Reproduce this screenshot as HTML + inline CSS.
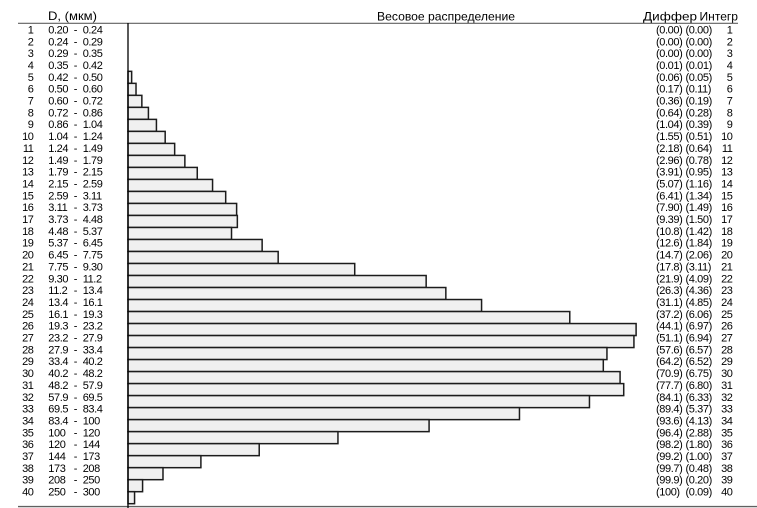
<!DOCTYPE html>
<html><head><meta charset="utf-8"><style>
html,body{margin:0;padding:0;background:#fff;}
svg{display:block;}
text{font-family:"Liberation Sans","DejaVu Sans",sans-serif;fill:#000;}
.d{font-size:11px;letter-spacing:-0.4px;}
.h{font-size:12px;}
</style></head><body>
<svg width="757" height="508" viewBox="0 0 757 508" xmlns="http://www.w3.org/2000/svg">
<rect width="757" height="508" fill="#fff"/>
<text class="h" x="48" y="20" textLength="49" lengthAdjust="spacingAndGlyphs">D, (мкм)</text>
<text class="h" x="377" y="20.5" textLength="138" lengthAdjust="spacingAndGlyphs">Весовое распределение</text>
<text class="h" x="643" y="20.5" textLength="54" lengthAdjust="spacingAndGlyphs">Диффер</text>
<text class="h" x="699.5" y="20.5" textLength="38.5" lengthAdjust="spacingAndGlyphs">Интегр</text>
<line x1="18" y1="23.3" x2="738" y2="23.3" stroke="#606060" stroke-width="1.2"/>
<line x1="18" y1="506.6" x2="757" y2="506.6" stroke="#606060" stroke-width="1.4"/>
<g fill="#f0f0f0" stroke="#1c1c1c" stroke-width="1.5">
<rect x="128" y="71.34" width="3.65" height="12.01"/>
<rect x="128" y="83.35" width="8.02" height="12.01"/>
<rect x="128" y="95.36" width="13.85" height="12.01"/>
<rect x="128" y="107.37" width="20.41" height="12.01"/>
<rect x="128" y="119.38" width="28.43" height="12.01"/>
<rect x="128" y="131.39" width="37.18" height="12.01"/>
<rect x="128" y="143.4" width="46.66" height="12.01"/>
<rect x="128" y="155.41" width="56.86" height="12.01"/>
<rect x="128" y="167.42" width="69.26" height="12.01"/>
<rect x="128" y="179.43" width="84.56" height="12.01"/>
<rect x="128" y="191.44" width="97.69" height="12.01"/>
<rect x="128" y="203.45" width="108.62" height="12.01"/>
<rect x="128" y="215.46" width="109.35" height="12.01"/>
<rect x="128" y="227.47" width="103.52" height="12.01"/>
<rect x="128" y="239.48" width="134.14" height="12.01"/>
<rect x="128" y="251.49" width="150.17" height="12.01"/>
<rect x="128" y="263.5" width="226.72" height="12.01"/>
<rect x="128" y="275.51" width="298.16" height="12.01"/>
<rect x="128" y="287.52" width="317.84" height="12.01"/>
<rect x="128" y="299.53" width="353.57" height="12.01"/>
<rect x="128" y="311.54" width="441.77" height="12.01"/>
<rect x="128" y="323.55" width="508.11" height="12.01"/>
<rect x="128" y="335.56" width="505.93" height="12.01"/>
<rect x="128" y="347.57" width="478.95" height="12.01"/>
<rect x="128" y="359.58" width="475.31" height="12.01"/>
<rect x="128" y="371.59" width="492.08" height="12.01"/>
<rect x="128" y="383.6" width="495.72" height="12.01"/>
<rect x="128" y="395.61" width="461.46" height="12.01"/>
<rect x="128" y="407.62" width="391.47" height="12.01"/>
<rect x="128" y="419.63" width="301.08" height="12.01"/>
<rect x="128" y="431.64" width="209.95" height="12.01"/>
<rect x="128" y="443.65" width="131.22" height="12.01"/>
<rect x="128" y="455.66" width="72.9" height="12.01"/>
<rect x="128" y="467.67" width="34.99" height="12.01"/>
<rect x="128" y="479.68" width="14.58" height="12.01"/>
<rect x="128" y="491.69" width="6.56" height="12.01"/>
</g>
<line x1="128" y1="23" x2="128" y2="508" stroke="#000" stroke-width="1.3"/>

<text class="d" text-anchor="end"><tspan x="33.5" y="33.4">1</tspan><tspan x="33.5" y="45.25">2</tspan><tspan x="33.5" y="57.1">3</tspan><tspan x="33.5" y="68.95">4</tspan><tspan x="33.5" y="80.8">5</tspan><tspan x="33.5" y="92.65">6</tspan><tspan x="33.5" y="104.5">7</tspan><tspan x="33.5" y="116.35">8</tspan><tspan x="33.5" y="128.2">9</tspan><tspan x="33.5" y="140.05">10</tspan><tspan x="33.5" y="151.9">11</tspan><tspan x="33.5" y="163.75">12</tspan><tspan x="33.5" y="175.6">13</tspan><tspan x="33.5" y="187.45">14</tspan><tspan x="33.5" y="199.3">15</tspan><tspan x="33.5" y="211.15">16</tspan><tspan x="33.5" y="223">17</tspan><tspan x="33.5" y="234.85">18</tspan><tspan x="33.5" y="246.7">19</tspan><tspan x="33.5" y="258.55">20</tspan><tspan x="33.5" y="270.4">21</tspan><tspan x="33.5" y="282.25">22</tspan><tspan x="33.5" y="294.1">23</tspan><tspan x="33.5" y="305.95">24</tspan><tspan x="33.5" y="317.8">25</tspan><tspan x="33.5" y="329.65">26</tspan><tspan x="33.5" y="341.5">27</tspan><tspan x="33.5" y="353.35">28</tspan><tspan x="33.5" y="365.2">29</tspan><tspan x="33.5" y="377.05">30</tspan><tspan x="33.5" y="388.9">31</tspan><tspan x="33.5" y="400.75">32</tspan><tspan x="33.5" y="412.6">33</tspan><tspan x="33.5" y="424.45">34</tspan><tspan x="33.5" y="436.3">35</tspan><tspan x="33.5" y="448.15">36</tspan><tspan x="33.5" y="460">37</tspan><tspan x="33.5" y="471.85">38</tspan><tspan x="33.5" y="483.7">39</tspan><tspan x="33.5" y="495.55">40</tspan></text>

<text class="d"><tspan x="48.3" y="33.4">0.20</tspan><tspan x="48.3" y="45.25">0.24</tspan><tspan x="48.3" y="57.1">0.29</tspan><tspan x="48.3" y="68.95">0.35</tspan><tspan x="48.3" y="80.8">0.42</tspan><tspan x="48.3" y="92.65">0.50</tspan><tspan x="48.3" y="104.5">0.60</tspan><tspan x="48.3" y="116.35">0.72</tspan><tspan x="48.3" y="128.2">0.86</tspan><tspan x="48.3" y="140.05">1.04</tspan><tspan x="48.3" y="151.9">1.24</tspan><tspan x="48.3" y="163.75">1.49</tspan><tspan x="48.3" y="175.6">1.79</tspan><tspan x="48.3" y="187.45">2.15</tspan><tspan x="48.3" y="199.3">2.59</tspan><tspan x="48.3" y="211.15">3.11</tspan><tspan x="48.3" y="223">3.73</tspan><tspan x="48.3" y="234.85">4.48</tspan><tspan x="48.3" y="246.7">5.37</tspan><tspan x="48.3" y="258.55">6.45</tspan><tspan x="48.3" y="270.4">7.75</tspan><tspan x="48.3" y="282.25">9.30</tspan><tspan x="48.3" y="294.1">11.2</tspan><tspan x="48.3" y="305.95">13.4</tspan><tspan x="48.3" y="317.8">16.1</tspan><tspan x="48.3" y="329.65">19.3</tspan><tspan x="48.3" y="341.5">23.2</tspan><tspan x="48.3" y="353.35">27.9</tspan><tspan x="48.3" y="365.2">33.4</tspan><tspan x="48.3" y="377.05">40.2</tspan><tspan x="48.3" y="388.9">48.2</tspan><tspan x="48.3" y="400.75">57.9</tspan><tspan x="48.3" y="412.6">69.5</tspan><tspan x="48.3" y="424.45">83.4</tspan><tspan x="48.3" y="436.3">100</tspan><tspan x="48.3" y="448.15">120</tspan><tspan x="48.3" y="460">144</tspan><tspan x="48.3" y="471.85">173</tspan><tspan x="48.3" y="483.7">208</tspan><tspan x="48.3" y="495.55">250</tspan></text>

<text class="d"><tspan x="73.8" y="33.4">-</tspan><tspan x="73.8" y="45.25">-</tspan><tspan x="73.8" y="57.1">-</tspan><tspan x="73.8" y="68.95">-</tspan><tspan x="73.8" y="80.8">-</tspan><tspan x="73.8" y="92.65">-</tspan><tspan x="73.8" y="104.5">-</tspan><tspan x="73.8" y="116.35">-</tspan><tspan x="73.8" y="128.2">-</tspan><tspan x="73.8" y="140.05">-</tspan><tspan x="73.8" y="151.9">-</tspan><tspan x="73.8" y="163.75">-</tspan><tspan x="73.8" y="175.6">-</tspan><tspan x="73.8" y="187.45">-</tspan><tspan x="73.8" y="199.3">-</tspan><tspan x="73.8" y="211.15">-</tspan><tspan x="73.8" y="223">-</tspan><tspan x="73.8" y="234.85">-</tspan><tspan x="73.8" y="246.7">-</tspan><tspan x="73.8" y="258.55">-</tspan><tspan x="73.8" y="270.4">-</tspan><tspan x="73.8" y="282.25">-</tspan><tspan x="73.8" y="294.1">-</tspan><tspan x="73.8" y="305.95">-</tspan><tspan x="73.8" y="317.8">-</tspan><tspan x="73.8" y="329.65">-</tspan><tspan x="73.8" y="341.5">-</tspan><tspan x="73.8" y="353.35">-</tspan><tspan x="73.8" y="365.2">-</tspan><tspan x="73.8" y="377.05">-</tspan><tspan x="73.8" y="388.9">-</tspan><tspan x="73.8" y="400.75">-</tspan><tspan x="73.8" y="412.6">-</tspan><tspan x="73.8" y="424.45">-</tspan><tspan x="73.8" y="436.3">-</tspan><tspan x="73.8" y="448.15">-</tspan><tspan x="73.8" y="460">-</tspan><tspan x="73.8" y="471.85">-</tspan><tspan x="73.8" y="483.7">-</tspan><tspan x="73.8" y="495.55">-</tspan></text>

<text class="d"><tspan x="82.7" y="33.4">0.24</tspan><tspan x="82.7" y="45.25">0.29</tspan><tspan x="82.7" y="57.1">0.35</tspan><tspan x="82.7" y="68.95">0.42</tspan><tspan x="82.7" y="80.8">0.50</tspan><tspan x="82.7" y="92.65">0.60</tspan><tspan x="82.7" y="104.5">0.72</tspan><tspan x="82.7" y="116.35">0.86</tspan><tspan x="82.7" y="128.2">1.04</tspan><tspan x="82.7" y="140.05">1.24</tspan><tspan x="82.7" y="151.9">1.49</tspan><tspan x="82.7" y="163.75">1.79</tspan><tspan x="82.7" y="175.6">2.15</tspan><tspan x="82.7" y="187.45">2.59</tspan><tspan x="82.7" y="199.3">3.11</tspan><tspan x="82.7" y="211.15">3.73</tspan><tspan x="82.7" y="223">4.48</tspan><tspan x="82.7" y="234.85">5.37</tspan><tspan x="82.7" y="246.7">6.45</tspan><tspan x="82.7" y="258.55">7.75</tspan><tspan x="82.7" y="270.4">9.30</tspan><tspan x="82.7" y="282.25">11.2</tspan><tspan x="82.7" y="294.1">13.4</tspan><tspan x="82.7" y="305.95">16.1</tspan><tspan x="82.7" y="317.8">19.3</tspan><tspan x="82.7" y="329.65">23.2</tspan><tspan x="82.7" y="341.5">27.9</tspan><tspan x="82.7" y="353.35">33.4</tspan><tspan x="82.7" y="365.2">40.2</tspan><tspan x="82.7" y="377.05">48.2</tspan><tspan x="82.7" y="388.9">57.9</tspan><tspan x="82.7" y="400.75">69.5</tspan><tspan x="82.7" y="412.6">83.4</tspan><tspan x="82.7" y="424.45">100</tspan><tspan x="82.7" y="436.3">120</tspan><tspan x="82.7" y="448.15">144</tspan><tspan x="82.7" y="460">173</tspan><tspan x="82.7" y="471.85">208</tspan><tspan x="82.7" y="483.7">250</tspan><tspan x="82.7" y="495.55">300</tspan></text>

<text class="d"><tspan x="656" y="33.4">(0.00)</tspan><tspan x="656" y="45.25">(0.00)</tspan><tspan x="656" y="57.1">(0.00)</tspan><tspan x="656" y="68.95">(0.01)</tspan><tspan x="656" y="80.8">(0.06)</tspan><tspan x="656" y="92.65">(0.17)</tspan><tspan x="656" y="104.5">(0.36)</tspan><tspan x="656" y="116.35">(0.64)</tspan><tspan x="656" y="128.2">(1.04)</tspan><tspan x="656" y="140.05">(1.55)</tspan><tspan x="656" y="151.9">(2.18)</tspan><tspan x="656" y="163.75">(2.96)</tspan><tspan x="656" y="175.6">(3.91)</tspan><tspan x="656" y="187.45">(5.07)</tspan><tspan x="656" y="199.3">(6.41)</tspan><tspan x="656" y="211.15">(7.90)</tspan><tspan x="656" y="223">(9.39)</tspan><tspan x="656" y="234.85">(10.8)</tspan><tspan x="656" y="246.7">(12.6)</tspan><tspan x="656" y="258.55">(14.7)</tspan><tspan x="656" y="270.4">(17.8)</tspan><tspan x="656" y="282.25">(21.9)</tspan><tspan x="656" y="294.1">(26.3)</tspan><tspan x="656" y="305.95">(31.1)</tspan><tspan x="656" y="317.8">(37.2)</tspan><tspan x="656" y="329.65">(44.1)</tspan><tspan x="656" y="341.5">(51.1)</tspan><tspan x="656" y="353.35">(57.6)</tspan><tspan x="656" y="365.2">(64.2)</tspan><tspan x="656" y="377.05">(70.9)</tspan><tspan x="656" y="388.9">(77.7)</tspan><tspan x="656" y="400.75">(84.1)</tspan><tspan x="656" y="412.6">(89.4)</tspan><tspan x="656" y="424.45">(93.6)</tspan><tspan x="656" y="436.3">(96.4)</tspan><tspan x="656" y="448.15">(98.2)</tspan><tspan x="656" y="460">(99.2)</tspan><tspan x="656" y="471.85">(99.7)</tspan><tspan x="656" y="483.7">(99.9)</tspan><tspan x="656" y="495.55">(100)</tspan></text>

<text class="d"><tspan x="685.5" y="33.4">(0.00)</tspan><tspan x="685.5" y="45.25">(0.00)</tspan><tspan x="685.5" y="57.1">(0.00)</tspan><tspan x="685.5" y="68.95">(0.01)</tspan><tspan x="685.5" y="80.8">(0.05)</tspan><tspan x="685.5" y="92.65">(0.11)</tspan><tspan x="685.5" y="104.5">(0.19)</tspan><tspan x="685.5" y="116.35">(0.28)</tspan><tspan x="685.5" y="128.2">(0.39)</tspan><tspan x="685.5" y="140.05">(0.51)</tspan><tspan x="685.5" y="151.9">(0.64)</tspan><tspan x="685.5" y="163.75">(0.78)</tspan><tspan x="685.5" y="175.6">(0.95)</tspan><tspan x="685.5" y="187.45">(1.16)</tspan><tspan x="685.5" y="199.3">(1.34)</tspan><tspan x="685.5" y="211.15">(1.49)</tspan><tspan x="685.5" y="223">(1.50)</tspan><tspan x="685.5" y="234.85">(1.42)</tspan><tspan x="685.5" y="246.7">(1.84)</tspan><tspan x="685.5" y="258.55">(2.06)</tspan><tspan x="685.5" y="270.4">(3.11)</tspan><tspan x="685.5" y="282.25">(4.09)</tspan><tspan x="685.5" y="294.1">(4.36)</tspan><tspan x="685.5" y="305.95">(4.85)</tspan><tspan x="685.5" y="317.8">(6.06)</tspan><tspan x="685.5" y="329.65">(6.97)</tspan><tspan x="685.5" y="341.5">(6.94)</tspan><tspan x="685.5" y="353.35">(6.57)</tspan><tspan x="685.5" y="365.2">(6.52)</tspan><tspan x="685.5" y="377.05">(6.75)</tspan><tspan x="685.5" y="388.9">(6.80)</tspan><tspan x="685.5" y="400.75">(6.33)</tspan><tspan x="685.5" y="412.6">(5.37)</tspan><tspan x="685.5" y="424.45">(4.13)</tspan><tspan x="685.5" y="436.3">(2.88)</tspan><tspan x="685.5" y="448.15">(1.80)</tspan><tspan x="685.5" y="460">(1.00)</tspan><tspan x="685.5" y="471.85">(0.48)</tspan><tspan x="685.5" y="483.7">(0.20)</tspan><tspan x="685.5" y="495.55">(0.09)</tspan></text>

<text class="d" text-anchor="end"><tspan x="732.5" y="33.4">1</tspan><tspan x="732.5" y="45.25">2</tspan><tspan x="732.5" y="57.1">3</tspan><tspan x="732.5" y="68.95">4</tspan><tspan x="732.5" y="80.8">5</tspan><tspan x="732.5" y="92.65">6</tspan><tspan x="732.5" y="104.5">7</tspan><tspan x="732.5" y="116.35">8</tspan><tspan x="732.5" y="128.2">9</tspan><tspan x="732.5" y="140.05">10</tspan><tspan x="732.5" y="151.9">11</tspan><tspan x="732.5" y="163.75">12</tspan><tspan x="732.5" y="175.6">13</tspan><tspan x="732.5" y="187.45">14</tspan><tspan x="732.5" y="199.3">15</tspan><tspan x="732.5" y="211.15">16</tspan><tspan x="732.5" y="223">17</tspan><tspan x="732.5" y="234.85">18</tspan><tspan x="732.5" y="246.7">19</tspan><tspan x="732.5" y="258.55">20</tspan><tspan x="732.5" y="270.4">21</tspan><tspan x="732.5" y="282.25">22</tspan><tspan x="732.5" y="294.1">23</tspan><tspan x="732.5" y="305.95">24</tspan><tspan x="732.5" y="317.8">25</tspan><tspan x="732.5" y="329.65">26</tspan><tspan x="732.5" y="341.5">27</tspan><tspan x="732.5" y="353.35">28</tspan><tspan x="732.5" y="365.2">29</tspan><tspan x="732.5" y="377.05">30</tspan><tspan x="732.5" y="388.9">31</tspan><tspan x="732.5" y="400.75">32</tspan><tspan x="732.5" y="412.6">33</tspan><tspan x="732.5" y="424.45">34</tspan><tspan x="732.5" y="436.3">35</tspan><tspan x="732.5" y="448.15">36</tspan><tspan x="732.5" y="460">37</tspan><tspan x="732.5" y="471.85">38</tspan><tspan x="732.5" y="483.7">39</tspan><tspan x="732.5" y="495.55">40</tspan></text>
</svg>
</body></html>
